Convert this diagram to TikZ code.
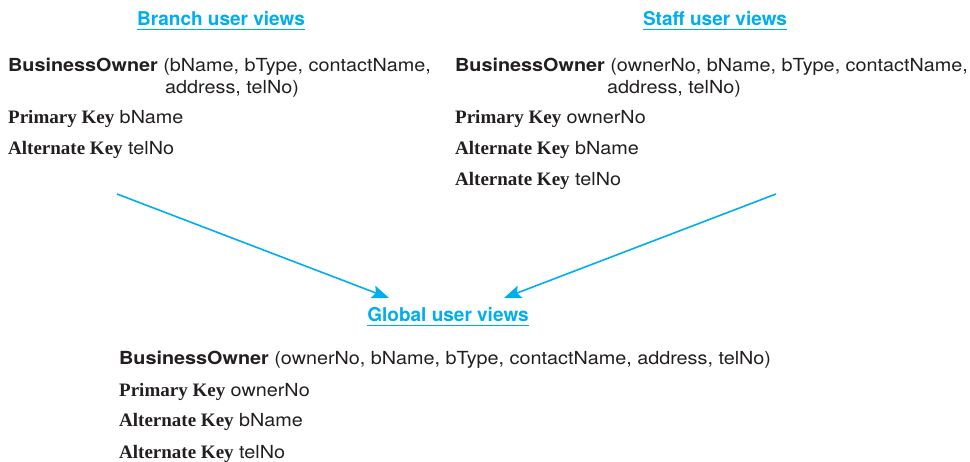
\documentclass[tikz,border=0pt]{standalone}
\usepackage{fontspec}
\setmainfont{Liberation Serif}
\setsansfont[FakeStretch=1.1]{TeX Gyre Heros}
\newfontfamily\titlefont{TeX Gyre Heros}
\usepackage{xcolor}
\definecolor{viewcyan}{HTML}{00AEEF}
\definecolor{ink}{HTML}{231F20}
\usetikzlibrary{arrows.meta,positioning}

\newcommand{\ent}{\textbf{BusinessOwner}}
\newcommand{\pkey}{{\rmfamily\bfseries\fontsize{19}{20}\selectfont Primary Key}}
\newcommand{\akey}{{\rmfamily\bfseries\fontsize{19}{20}\selectfont Alternate Key}}

\begin{document}
\begin{tikzpicture}[x=1pt, y=-1pt,
	line/.style={anchor=base west, inner sep=0pt, text=ink, font=\sffamily\fontsize{18}{20}\selectfont},
	viewtitle/.style={anchor=base, inner sep=0pt, text=viewcyan, font=\titlefont\bfseries\fontsize{19}{22}\selectfont},
	flow/.style={-{Stealth[length=17pt, width=13pt, inset=3pt]}, viewcyan, line width=1.6pt}]

		% ---------- frame (reference is 970 x 462 px)
		\useasboundingbox (0,0) rectangle (970,462);

		% ================= Branch user views =================
		\node[viewtitle] (brTitle) at (221,26) {Branch user views};
		\draw[viewcyan, line width=1.1pt] ([yshift=-3.5pt]brTitle.base west) -- ([yshift=-3.5pt]brTitle.base east);

		\node[line] (brRel)  at (8,72)   {\ent{} (bName, bType, contactName,};
		\node[line] (brRelB) at (165,94) {address, telNo)};
		\node[line] (brPk)   at (8,124)  {\pkey{} bName};
		\node[line] (brAk)   at (8,155)  {\akey{} telNo};

		% ================= Staff user views =================
		\node[viewtitle] (stTitle) at (715,26) {Staff user views};
		\draw[viewcyan, line width=1.1pt] ([yshift=-3.5pt]stTitle.base west) -- ([yshift=-3.5pt]stTitle.base east);

		\node[line] (stRel)  at (455,72)  {\ent{} (ownerNo, bName, bType, contactName,};
		\node[line] (stRelB) at (607,94)  {address, telNo)};
		\node[line] (stPk)   at (455,124) {\pkey{} ownerNo};
		\node[line] (stAkA)  at (455,155) {\akey{} bName};
		\node[line] (stAkB)  at (455,186) {\akey{} telNo};

		% ================= Global user views =================
		\node[viewtitle] (glTitle) at (448,322) {Global user views};
		\draw[viewcyan, line width=1.1pt] ([yshift=-3.5pt]glTitle.base west) -- ([yshift=-3.5pt]glTitle.base east);

		\node[line] (glRel) at (119,365) {\ent{} (ownerNo, bName, bType, contactName, address, telNo)};
		\node[line] (glPk)  at (119,397) {\pkey{} ownerNo};
		\node[line] (glAkA) at (119,427) {\akey{} bName};
		\node[line] (glAkB) at (119,458) {\akey{} telNo};

		% ---------- merge arrows
		\coordinate (brTail) at (117,194);
		\coordinate (brHead) at (389,298);
		\coordinate (stTail) at (776,194);
		\coordinate (stHead) at (504,298);
		\draw[flow] (brTail) -- (brHead);
		\draw[flow] (stTail) -- (stHead);
	\end{tikzpicture}
\end{document}
